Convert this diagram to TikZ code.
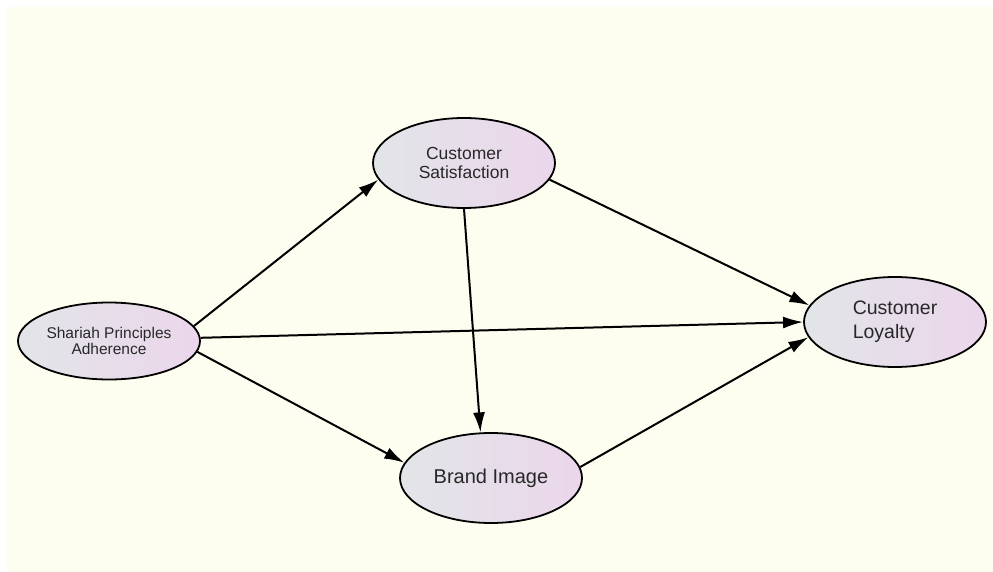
\documentclass[tikz,border=0pt]{standalone}
\usepackage{fontspec}
\setmainfont{Liberation Sans}
\usetikzlibrary{shapes.geometric}
\usetikzlibrary{arrows.meta}

\definecolor{paperCream}{RGB}{254,254,240}
\definecolor{leftShade}{RGB}{226,229,232}
\definecolor{rightShade}{RGB}{235,214,235}
\definecolor{nodeText}{RGB}{40,40,40}

\begin{document}
\begin{tikzpicture}[x=1pt,y=-1pt,
        >={Latex[length=20pt,width=12pt]},
        latentNode/.style = {shape=ellipse,draw=black,line width=1.8pt,left color=leftShade,right color=rightShade,text=nodeText,inner sep=0pt,minimum width=182pt,minimum height=90pt},
        pathArrow/.style = {->,line width=2pt,black}, % structural path
        ]
        \useasboundingbox (0,0) rectangle (993,572);
        \fill[paperCream] (7,7) rectangle (993,572);

        \node[latentNode,minimum height=77pt,align=center,font=\fontsize{15.5}{16}\selectfont] (sha) at (109,341) {Shariah Principles\\Adherence};
        \node[latentNode,align=center,font=\fontsize{17.5}{19}\selectfont] (sat) at (464,163) {Customer\\Satisfaction};
        \node[latentNode,align=center,font=\fontsize{20}{22}\selectfont] (img) at (491,478) {Brand Image};
        \node[latentNode,align=left,font=\fontsize{19.5}{24}\selectfont] (loy) at (895,322) {Customer\\Loyalty};

        \draw[pathArrow] (sha.10) -- (sat.191);
        \draw[pathArrow] (sha.2) -- (loy.180);
        \draw[pathArrow] (sha.-7) -- (img.170);
        \draw[pathArrow] (sat.349) -- (loy.169);
        \draw[pathArrow] (sat.270) -- (img.103);
        \draw[pathArrow] (img.7) -- (loy.190);
    \end{tikzpicture}
\end{document}
